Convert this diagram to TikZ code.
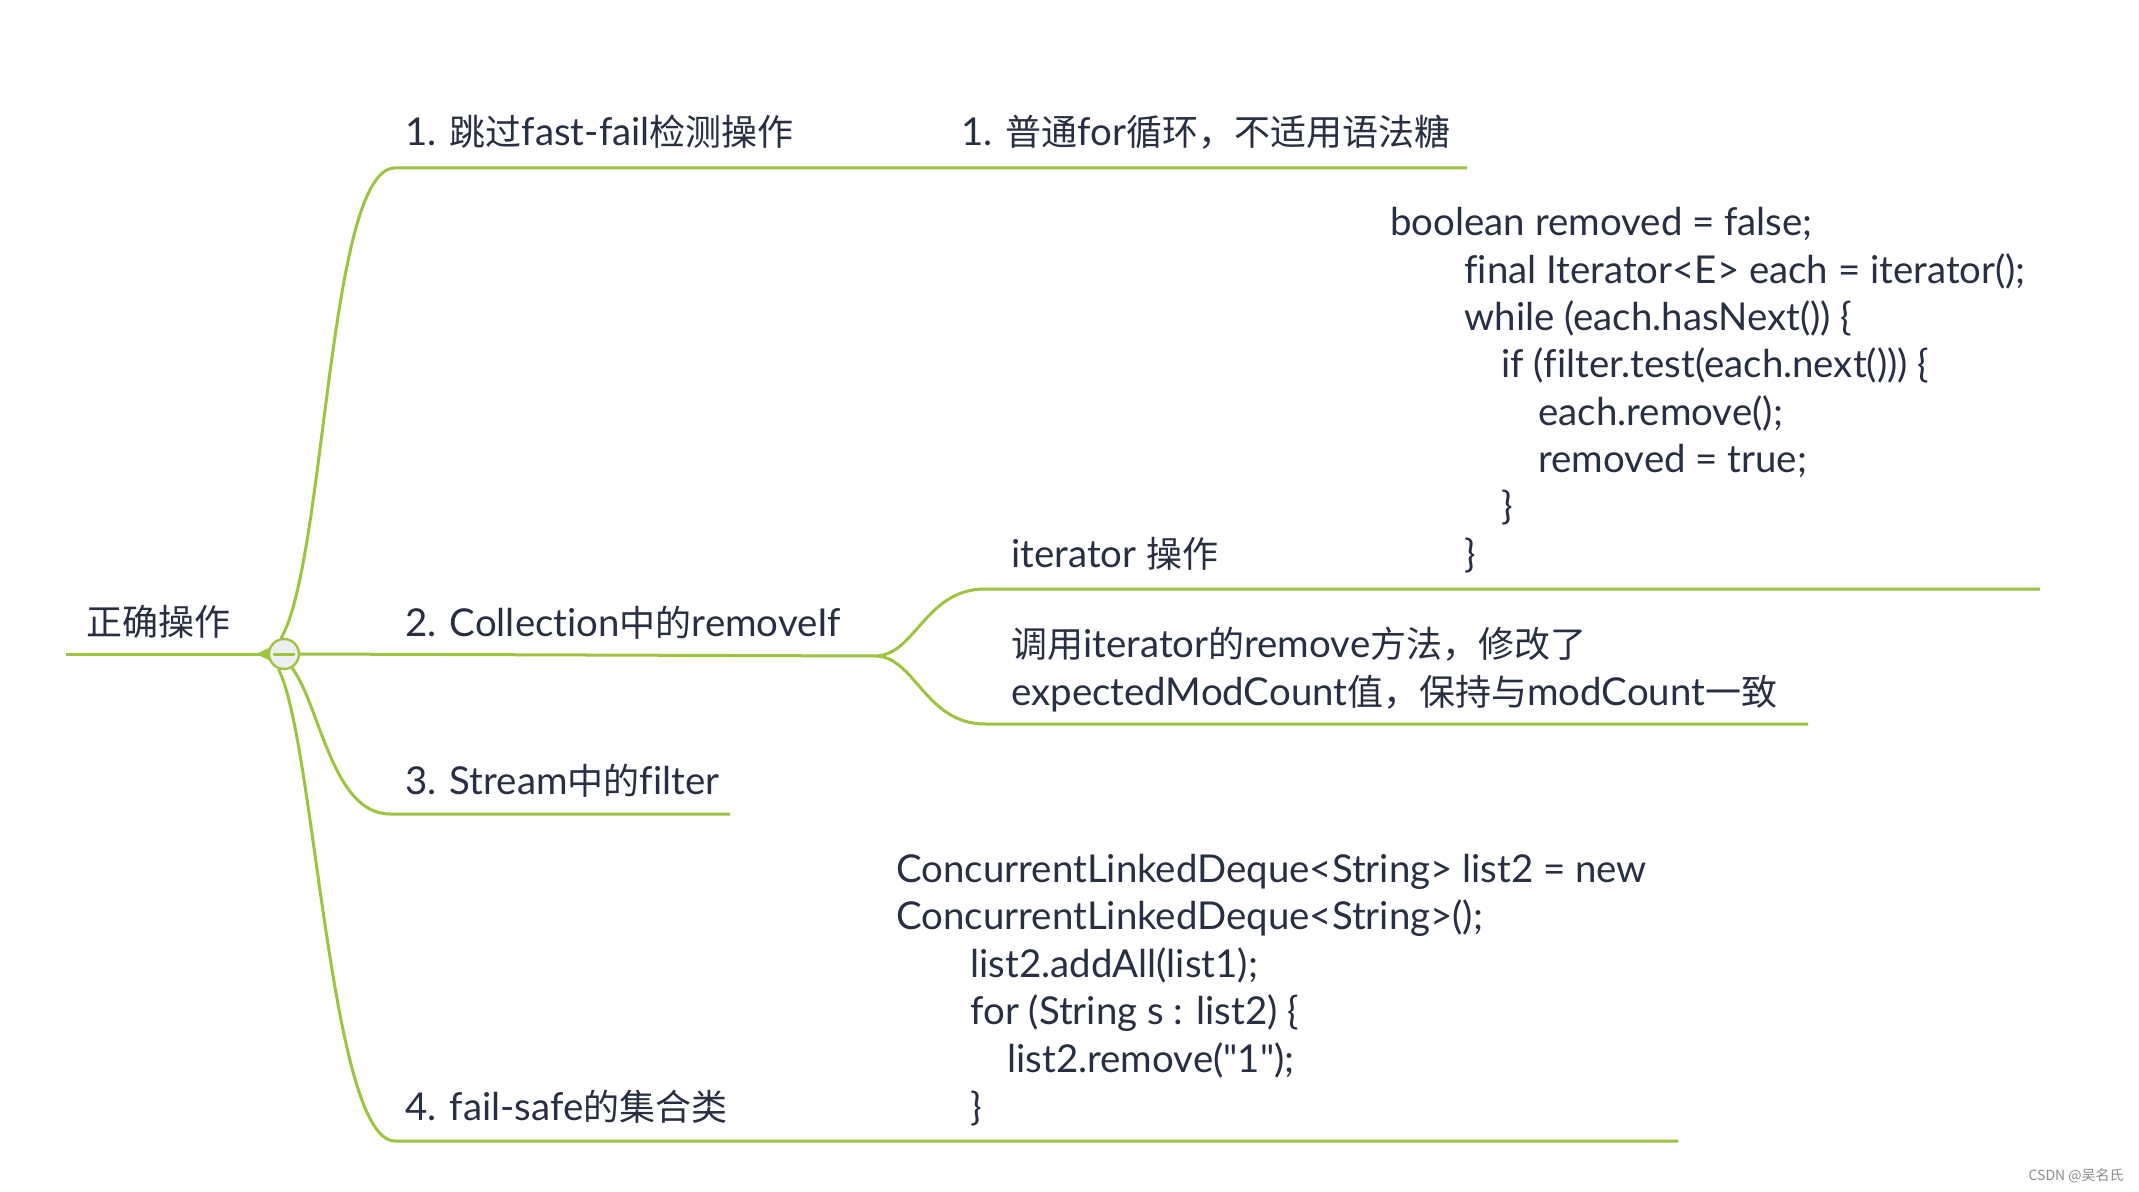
\documentclass[tikz,border=0pt]{standalone}
\usepackage{fontspec}
\usetikzlibrary{backgrounds}
\setmainfont{Lato}[Ligatures={TeXOff,NoCommon}]
\newfontfamily\cjk{Noto Sans CJK SC}
\newcommand\zh[1]{{\cjk\fontsize{18}{21}\selectfont #1}}
\definecolor{branchgreen}{RGB}{158,195,64}
\definecolor{inkblue}{RGB}{40,47,66}
\definecolor{hubgray}{RGB}{236,238,242}

\begin{document}
\begin{tikzpicture}[x=0.5pt,y=-0.5pt,line join=round,line cap=round,
	branch/.style={draw=branchgreen,line width=1.5pt},
	topic/.style={anchor=base west,inner sep=0pt,text=inkblue,font=\fontsize{19.2}{22}\selectfont},
	codeline/.style={topic},
	hubnode/.style={circle,draw=branchgreen,fill=hubgray,line width=1.2pt,minimum size=15pt,inner sep=0pt}]
	\useasboundingbox (0,0) rectangle (2139,1192);
	% topics
	\node[topic] (root) at (86,635) {\zh{正确操作}};
	\node[hubnode] (hub) at (284,654) {};
	\node[topic] (b1) at (405,146) {1. \zh{跳过}fast-fail\zh{检测操作}};
	\node[topic] (b1a) at (961,146) {1. \zh{普通}for\zh{循环，不适用语法糖}};
	\node[topic] (b2) at (405,636) {2. Collection\zh{中的}removeIf};
	\node[topic] (b3) at (405,794) {3. Stream\zh{中的}filter};
	\node[topic] (b4) at (405,1120) {4. fail-safe\zh{的集合类}};
	\node[topic] (iter) at (1011,567) {iterator \zh{操作}};
	\foreach \t [count=\i] in {{\zh{调用}iterator\zh{的}remove\zh{方法，修改了}},{expectedModCount\zh{值，保持与}modCount\zh{一致}}}
	{\node[topic] (note_\i) at (1011,{657+48*(\i-1)}) {\t};}
	% code of removeIf
	\foreach \x/\t [count=\i] in {
		1390/{boolean removed = false;},
		1464/{final Iterator<E> each = iterator();},
		1464/{while (each.hasNext()) \{},
		1501/{if (filter.test(each.next())) \{},
		1538/{each.remove();},
		1538/{removed = true;},
		1501/{\}},
		1464/{\}}}
	{\node[codeline] (rm_\i) at (\x,{236+47.3*(\i-1)}) {\t};}
	% code of fail-safe
	\foreach \x/\t [count=\i] in {
		896/{ConcurrentLinkedDeque<String> list2 = new},
		896/{ConcurrentLinkedDeque<String>();},
		970/{list2.addAll(list1);},
		970/{for (String s : list2) \{},
		1007/{list2.remove("1");},
		970/{\}}}
	{\node[codeline] (cs_\i) at (\x,{882+47.6*(\i-1)}) {\t};}
	\draw[branchgreen,line width=1.5pt] ([xshift=-5pt]hub.center) -- ([xshift=5pt]hub.center);
	\node[anchor=base east,inner sep=0pt,text=black!45,font=\cjk\fontsize{7}{8}\selectfont] (mark) at (2124,1180) {CSDN @吴名氏};
	\begin{scope}[on background layer]
		\fill[white] (0,0) rectangle (2139,1192);
		\draw[branch] (66,654) coordinate (r0) -- (hub.west);
		\fill[branchgreen] (256,654) -- (271,647) -- (271,661) -- cycle;
		\draw[branch]
		(hub.100) .. controls (326,560) and (328,168) .. (395,168) -- (1467,168)
		(hub.east) -- (875,656) coordinate (fork)
		(fork) .. controls (915,656) and (925,589) .. (985,589) -- (2040,589)
		(fork) .. controls (915,656) and (925,724) .. (985,724) -- (1808,724)
		(hub.-60) .. controls (320,705) and (332,814) .. (390,814) -- (730,814)
		(hub.-110) .. controls (315,740) and (330,1141) .. (395,1141) -- (1678,1141)
		;
	\end{scope}
\end{tikzpicture}
\end{document}
